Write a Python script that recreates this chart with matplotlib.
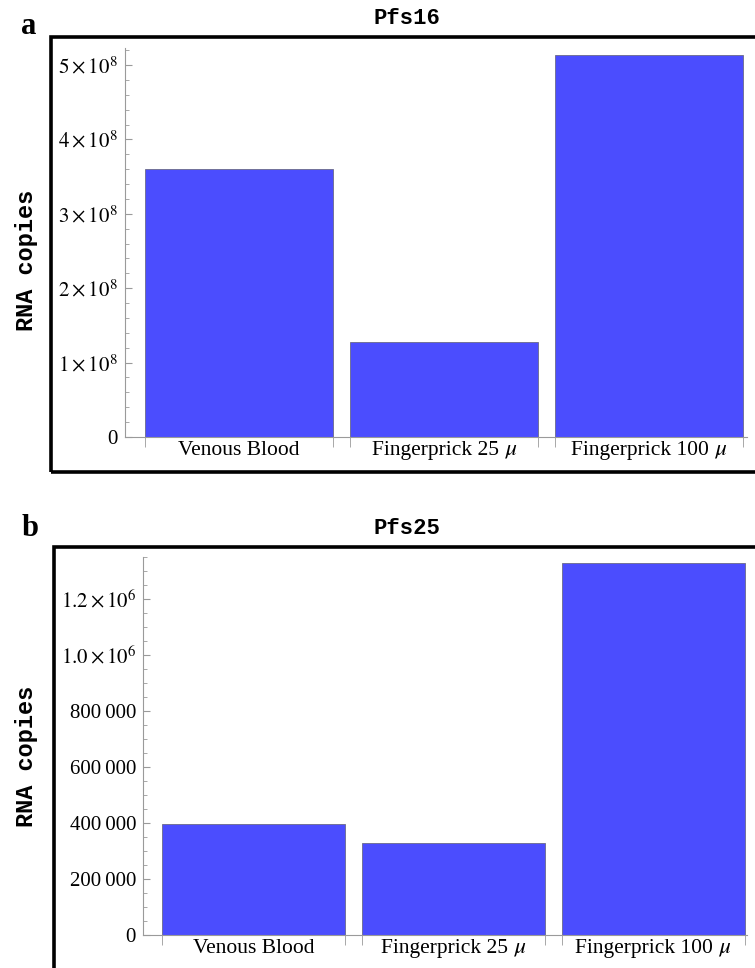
import matplotlib
matplotlib.use("Agg")
import matplotlib.pyplot as plt
from matplotlib.patches import Rectangle
from matplotlib.ticker import FixedLocator, MultipleLocator

plt.rcParams['font.family'] = ['Liberation Serif', 'STIXGeneral', 'DejaVu Serif']
plt.rcParams['mathtext.fontset'] = 'stix'

categories = ["Venous Blood", "Fingerprick 25 \U0001D707", "Fingerprick 100 \U0001D707"]
pfs16_values = [3.60e8, 1.28e8, 5.13e8]
pfs25_values = [396000, 329000, 1330000]
pfs16_ticks = [0, 1e8, 2e8, 3e8, 4e8, 5e8]
pfs16_ticklabels = ["0", r"$1\times10^{8}$", r"$2\times10^{8}$", r"$3\times10^{8}$",
                    r"$4\times10^{8}$", r"$5\times10^{8}$"]
pfs25_ticks = [0, 200000, 400000, 600000, 800000, 1.0e6, 1.2e6]
pfs25_ticklabels = ["0", "200\u2009000", "400\u2009000", "600\u2009000", "800\u2009000",
                    r"$1.0\times10^{6}$", r"$1.2\times10^{6}$"]

W, H = 755, 968
fig = plt.figure(figsize=(W / 100, H / 100), dpi=100)

BAR_COLOR = "#4b4dfe"
GREY = "#9a9a9a"
MONO = ['Liberation Mono', 'DejaVu Sans Mono']


def px_axes(left, right, bottom, top):
    return fig.add_axes([left / W, 1 - bottom / H, (right - left) / W, (bottom - top) / H])


def panel(values, ticks, ticklabels, ymax, minor, ax_px, xlim, title, title_y,
          frame, letter, letter_xy, ylabel_xy):
    ax = px_axes(*ax_px)
    width = 0.915
    xs = list(range(len(values)))
    ax.bar(xs, values, width=width, color=BAR_COLOR, edgecolor="#6a6a8a", linewidth=0.6, zorder=2)
    ax.set_xlim(*xlim)
    ax.set_ylim(0, ymax)
    for s in ("top", "right"):
        ax.spines[s].set_visible(False)
    for s in ("left", "bottom"):
        ax.spines[s].set_color(GREY)
        ax.spines[s].set_linewidth(0.8)
    ax.set_yticks(ticks)
    ax.set_yticklabels(ticklabels)
    ax.yaxis.set_minor_locator(MultipleLocator(minor))
    ax.tick_params(axis='y', which='major', direction='in', length=5, color=GREY,
                   labelsize=15, pad=5)
    ax.tick_params(axis='y', which='minor', direction='in', length=3, color=GREY)
    ax.set_xticks(xs)
    ax.set_xticklabels(categories)
    edges = []
    for x in xs:
        edges += [x - width / 2, x + width / 2]
    ax.xaxis.set_minor_locator(FixedLocator(edges))
    ax.tick_params(axis='x', which='major', length=0, labelsize=15.5, pad=3)
    ax.tick_params(axis='x', which='minor', direction='out', length=7, color=GREY)
    ax.patch.set_alpha(0)
    # panel frame
    fx0, fy0, fx1, fy1 = frame
    fig.add_artist(Rectangle((fx0 / W, 1 - fy1 / H), (fx1 - fx0) / W, (fy1 - fy0) / H,
                             transform=fig.transFigure, fill=False, edgecolor="black",
                             linewidth=2.6, clip_on=False))
    fig.text(407 / W, 1 - title_y / H, title, family=MONO, fontweight='bold',
             fontsize=16, ha='center', va='center')
    fig.text(letter_xy[0] / W, 1 - letter_xy[1] / H, letter, fontweight='bold',
             fontsize=22, ha='center', va='center')
    fig.text(ylabel_xy[0] / W, 1 - ylabel_xy[1] / H, "RNA copies", family=MONO,
             fontweight='bold', fontsize=17, rotation=90, ha='center', va='center')
    return ax


panel(pfs16_values, pfs16_ticks, pfs16_ticklabels, 5.23e8, 2e7,
      (125, 747, 437, 48), (-0.556, 2.478), "Pfs16", 19,
      (51, 37, 800, 472), "a", (29, 27), (27, 260))
panel(pfs25_values, pfs25_ticks, pfs25_ticklabels, 1.35e6, 50000,
      (143, 747, 935, 557), (-0.5525, 2.47), "Pfs25", 528,
      (54, 547, 800, 1000), "b", (30, 529), (27, 756))

fig.savefig("out.png", dpi=100)
